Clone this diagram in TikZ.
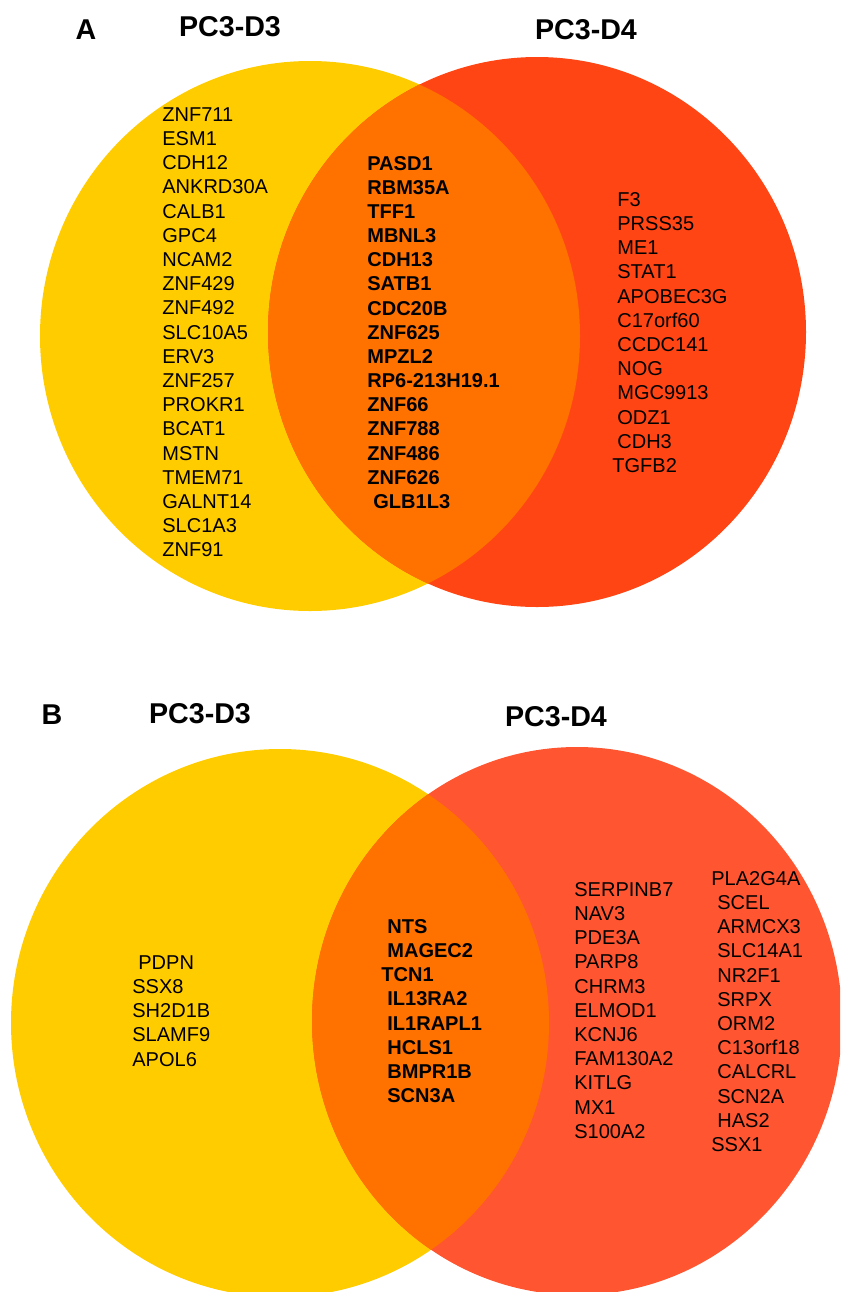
\documentclass[tikz,border=0pt]{standalone}
\usepackage{fontspec}
\setmainfont{Liberation Sans}

\definecolor{setyellow}{HTML}{FFCC00}
\definecolor{setredA}{HTML}{FF4514}
\definecolor{setredB}{HTML}{FF5530}
\definecolor{setboth}{HTML}{FF7200}

\tikzset{
  gene/.style={anchor=base west, inner sep=0pt, font=\fontsize{11.4}{13}\selectfont},
  shared/.style={gene, font=\fontsize{11.4}{13}\selectfont\bfseries},
  setname/.style={inner sep=0pt, font=\fontsize{16.3}{18}\selectfont\bfseries},
}

\begin{document}
\begin{tikzpicture}[x=0.02cm, y=-0.02cm]
	\useasboundingbox (0,0) rectangle (840,1292);
	\clip (0,0) rectangle (840,1292);

	% Panel A
	\fill[setyellow] (310,336) ellipse [x radius=270, y radius=275];
	\fill[setredA] (537,332) ellipse [x radius=269, y radius=275];
	\begin{scope}
		\clip (310,336) ellipse [x radius=270, y radius=275];
		\fill[setboth] (537,332) ellipse [x radius=269, y radius=275];
	\end{scope}

	\node[setname] (labA) at (86,30) {A};
	\node[setname] (d3A) at (230,27) {PC3-D3};
	\node[setname] (d4A) at (586,30) {PC3-D4};

	\foreach \g [count=\i] in {ZNF711,ESM1,CDH12,ANKRD30A,CALB1,GPC4,NCAM2,ZNF429,ZNF492,SLC10A5,ERV3,ZNF257,PROKR1,BCAT1,MSTN,TMEM71,GALNT14,SLC1A3,ZNF91}
		\node[gene] (aL\i) at (162,{121.2+(\i-1)*24.2}) {\g};
	\foreach \g/\dx [count=\i] in {PASD1/0,RBM35A/0,TFF1/0,MBNL3/0,CDH13/0,SATB1/0,CDC20B/0,ZNF625/0,MPZL2/0,RP6-213H19.1/0,ZNF66/0,ZNF788/0,ZNF486/0,ZNF626/0,GLB1L3/6}
		\node[shared] (aM\i) at ({367+\dx},{170.2+(\i-1)*24.15}) {\g};
	\foreach \g/\dx [count=\i] in {F3/0,PRSS35/0,ME1/0,STAT1/0,APOBEC3G/0,C17orf60/0,CCDC141/0,NOG/0,MGC9913/0,ODZ1/0,CDH3/0,TGFB2/-5}
		\node[gene] (aR\i) at ({617+\dx},{206.2+(\i-1)*24.2}) {\g};

	% Panel B
	\fill[setyellow] (280,1023) ellipse [x radius=269, y radius=274];
	\fill[setredB] (577,1021) ellipse [x radius=265, y radius=274];
	\begin{scope}
		\clip (280,1023) ellipse [x radius=269, y radius=274];
		\fill[setboth] (577,1021) ellipse [x radius=265, y radius=274];
	\end{scope}

	\node[setname] (labB) at (52,715) {B};
	\node[setname] (d3B) at (200,714) {PC3-D3};
	\node[setname] (d4B) at (556,717) {PC3-D4};

	\foreach \g/\dx [count=\i] in {PDPN/6,SSX8/0,SH2D1B/0,SLAMF9/0,APOL6/0}
		\node[gene] (bL\i) at ({132+\dx},{969.2+(\i-1)*24.2}) {\g};
	\foreach \g/\dx [count=\i] in {NTS/0,MAGEC2/0,TCN1/-6,IL13RA2/0,IL1RAPL1/0,HCLS1/0,BMPR1B/0,SCN3A/0}
		\node[shared] (bM\i) at ({387+\dx},{933.2+(\i-1)*24.2}) {\g};
	\foreach \g [count=\i] in {SERPINB7,NAV3,PDE3A,PARP8,CHRM3,ELMOD1,KCNJ6,FAM130A2,KITLG,MX1,S100A2}
		\node[gene] (bR\i) at (574,{896.2+(\i-1)*24.2}) {\g};
	\foreach \g/\dx [count=\i] in {PLA2G4A/0,SCEL/6,ARMCX3/6,SLC14A1/6,NR2F1/6,SRPX/6,ORM2/6,C13orf18/6,CALCRL/6,SCN2A/6,HAS2/6,SSX1/0}
		\node[gene] (bS\i) at ({711+\dx},{885.2+(\i-1)*24.2}) {\g};
\end{tikzpicture}
\end{document}
